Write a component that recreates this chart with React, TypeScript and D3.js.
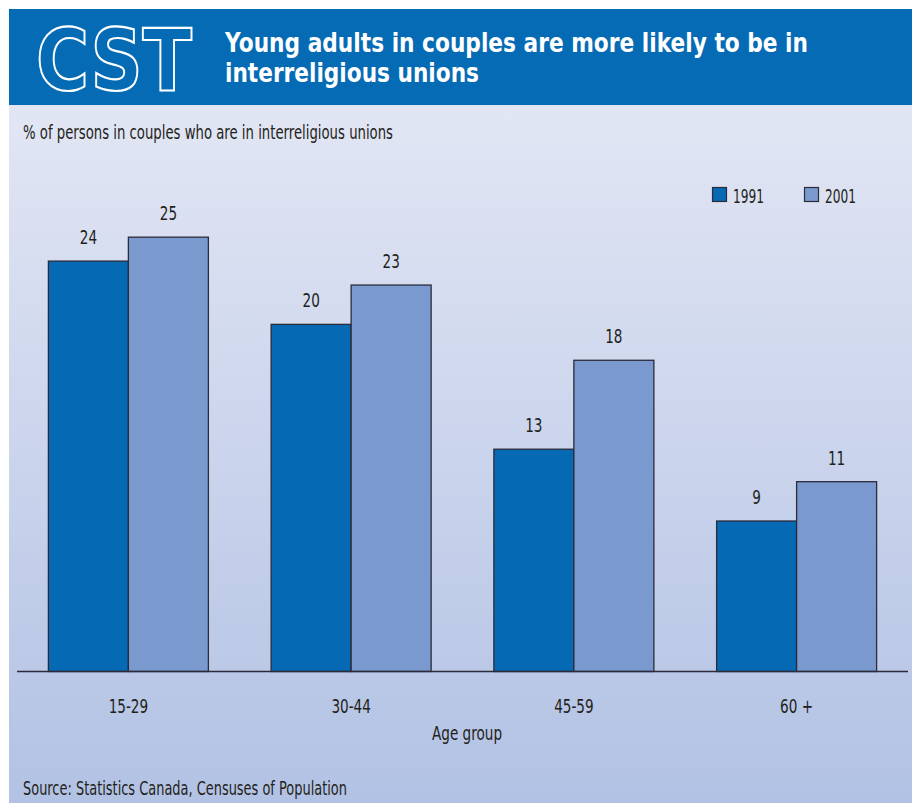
import React from "react";
import * as d3 from "d3";

const categories = ["15-29", "30-44", "45-59", "60+"];
const seriesNames = ["1991", "2001"];
const values1991 = [24.0, 20.3, 13.0, 8.8];
const values2001 = [25.4, 22.6, 18.2, 11.1];
const titleLines = ["Young adults in couples are more likely to be in", "interreligious unions"];
const subtitle = "% of persons in couples who are in interreligious unions";
const xAxisTitle = "Age group";
const sourceText = "Source: Statistics Canada, Censuses of Population";

const W = 912;
const H = 803;
const FONT = "'DejaVu Sans', 'Liberation Sans', sans-serif";
const colors = ["#0669B4", "#7A99CF"];
const textColor = "#231F20";
const NARROW = 0.68;

function NText({
  x,
  y,
  anchor = "start",
  size = 20,
  children,
  fill = textColor,
  width,
  weight,
  sx = NARROW,
}: {
  x: number;
  y: number;
  anchor?: string;
  size?: number;
  children: React.ReactNode;
  fill?: string;
  width?: number;
  weight?: string;
  sx?: number;
}) {
  return (
    <text
      transform={`translate(${x},${y}) scale(${sx},1)`}
      textAnchor={anchor}
      fontSize={size}
      fill={fill}
      fontWeight={weight}
      textLength={width ? width / sx : undefined}
      lengthAdjust={width ? "spacingAndGlyphs" : undefined}
    >
      {children}
    </text>
  );
}

export default function App() {
  const margin = { left: 17, right: 4, base: 671.5 };
  const x0 = d3
    .scaleBand<string>()
    .domain(categories)
    .range([margin.left, W - margin.right])
    .paddingInner(0.2817)
    .paddingOuter(0.1409);
  const x1 = d3.scaleBand<string>().domain(seriesNames).range([0, x0.bandwidth()]);
  const y = d3.scaleLinear().domain([0, 26]).range([margin.base, margin.base - 26 * 17.1]);
  const series = [values1991, values2001];

  return (
    <svg
      width={W}
      height={H}
      style={{ position: "absolute", left: 0, top: 0, display: "block" }}
      fontFamily={FONT}
    >
      <defs>
        <linearGradient id="bg" x1="0" y1="0" x2="0" y2="1">
          <stop offset="0" stopColor="#E2E6F4" />
          <stop offset="1" stopColor="#B2C2E4" />
        </linearGradient>
      </defs>
      <rect x={0} y={0} width={W} height={H} fill="#FFFFFF" />
      <rect x={9} y={105} width={W - 9} height={H - 105} fill="url(#bg)" />
      <rect x={9} y={9} width={W - 9} height={96} fill="#066BB5" />
      {/* CST logo */}
      <text
        x={36}
        y={90}
        fontFamily="'DejaVu Sans', sans-serif"
        fontWeight={900}
        fontSize={86}
        fill="#066BB5"
        stroke="#FFFFFF"
        strokeWidth={2.2}
        textLength={156}
        lengthAdjust="spacingAndGlyphs"
      >
        CST
      </text>
      {titleLines.map((t, i) => (
        <NText
          key={t}
          x={225}
          y={52 + i * 30}
          fill="#FFFFFF"
          weight="bold"
          size={26}
          sx={0.7}
          width={i === 0 ? 583 : 254}
        >
          {t}
        </NText>
      ))}
      <NText x={23} y={139} width={370}>
        {subtitle}
      </NText>

      {/* legend */}
      {seriesNames.map((s, i) => (
        <g key={s} transform={`translate(${712 + i * 92},187)`}>
          <rect x={0.5} y={0.5} width={14} height={14} fill={colors[i]} stroke="#2B2B3A" strokeWidth={1.2} />
          <NText x={21} y={15.5} width={31}>
            {s}
          </NText>
        </g>
      ))}

      {/* bars */}
      {categories.map((c, ci) => (
        <g key={c} transform={`translate(${x0(c)},0)`}>
          {seriesNames.map((s, si) => {
            const v = series[si][ci];
            const bx = x1(s)!;
            return (
              <g key={s}>
                <rect
                  x={bx}
                  y={y(v)}
                  width={x1.bandwidth()}
                  height={y(0) - y(v)}
                  fill={colors[si]}
                  stroke="#2B2B3A"
                  strokeWidth={1.3}
                />
                <NText x={bx + x1.bandwidth() / 2} y={y(v) - 17} anchor="middle">
                  {Math.round(v)}
                </NText>
              </g>
            );
          })}
        </g>
      ))}

      {/* axis */}
      <line x1={margin.left} x2={W - margin.right} y1={y(0)} y2={y(0)} stroke="#2B2B3A" strokeWidth={1.5} />
      {categories.map((c) => (
        <NText key={c} x={x0(c)! + x0.bandwidth() / 2} y={713} anchor="middle">
          {c === "60+" ? "60 +" : c}
        </NText>
      ))}
      <NText x={467} y={740} anchor="middle">
        {xAxisTitle}
      </NText>
      <NText x={23} y={795} width={324}>
        {sourceText}
      </NText>
    </svg>
  );
}
